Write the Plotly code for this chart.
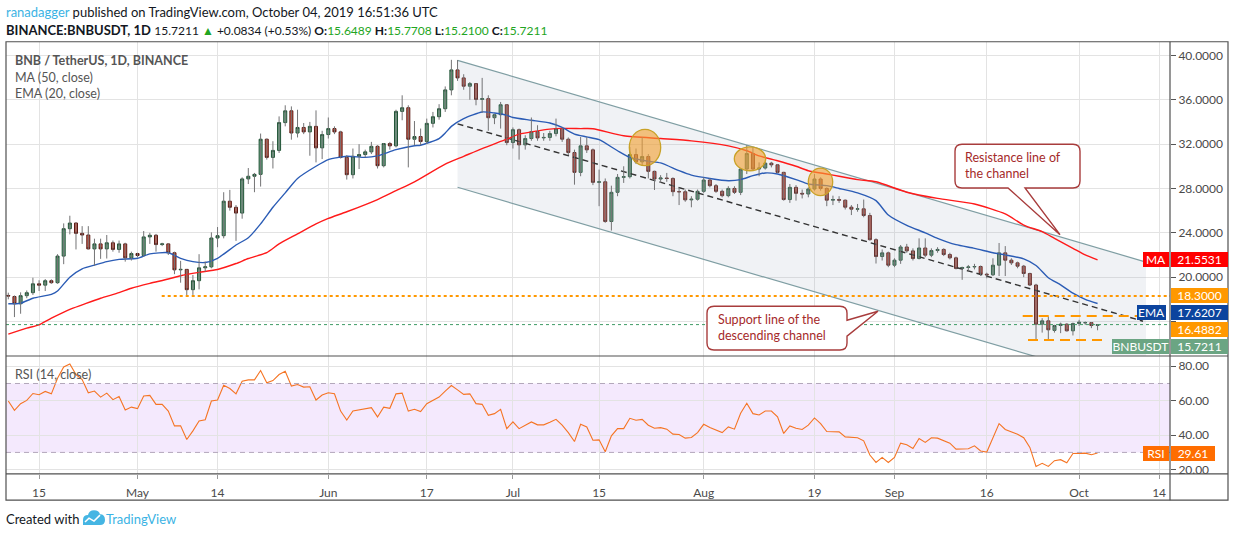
import plotly.graph_objects as go
import pandas as pd

W, H = 1234, 540
START = pd.Timestamp("2019-04-10")
FONT = "Lato, sans-serif"

# ---------------- data ----------------
opens = [18.35,18.25,17.6,18.33,18.6,19.4,19.28,19.68,19.5,21.9,
         24.37,24.88,23.95,23.8,22.55,23.0,22.55,23.1,22.5,23.0,
         21.74,22.13,21.95,23.63,23.78,22.94,23.0,22.2,20.66,20.7,
         18.87,19.68,20.84,20.93,23.53,23.74,26.85,26.3,25.78,28.86,
         29.1,29.27,32.44,30.8,31.43,33.94,35.0,33.0,33.5,33.1,
         33.6,31.66,32.86,33.4,33.1,30.8,29.24,30.9,31.06,31.3,
         31.8,30.05,32.05,31.84,34.95,35.28,32.44,32.68,32.23,33.87,
         34.47,35.19,36.89,38.69,37.97,37.22,37.46,36.03,36.1,34.38,
         34.65,35.55,32.14,33.3,31.93,32.5,33.13,32.56,32.6,32.95,
         33.4,32.44,31.24,29.45,31.84,31.48,28.55,28.6,25.02,27.65,
         29.0,29.06,31.06,30.4,30.88,29.54,28.85,28.94,28.9,27.71,
         27.7,26.97,27.03,27.74,28.76,28.25,27.74,27.35,28.0,27.65,
         29.75,31.15,29.75,29.84,30.28,30.13,29.45,27.0,28.1,27.56,
         27.5,27.95,28.85,28.0,26.94,27.0,26.94,26.31,26.13,26.16,
         25.56,23.38,21.86,22.19,21.08,21.53,22.72,22.37,21.68,22.63,
         21.98,22.4,22.5,22.04,21.74,20.78,20.87,20.92,20.96,20.27,
         20.21,21.08,22.19,21.53,21.29,20.99,20.33,19.29,15.76,16.06,
         15.2,15.64,15.76,15.16,15.82,15.88,15.9,15.6489]
highs = [18.6,18.35,18.63,18.8,19.95,19.72,19.83,19.8,22.07,24.85,
         25.54,24.95,24.6,24.6,23.47,23.47,23.8,23.3,23.3,23.1,
         22.3,22.2,24.16,24.0,23.9,23.1,23.05,22.3,21.47,20.7,
         20.2,22.07,21.4,24.04,24.52,27.66,27.87,26.5,29.0,29.84,
         29.4,32.95,32.5,32.26,34.5,35.5,35.4,35.1,33.9,34.0,
         35.04,33.2,34.4,33.6,33.2,31.0,31.6,31.99,31.5,32.2,
         31.9,32.1,32.2,35.1,36.4,35.5,34.08,33.4,34.3,34.9,
         35.6,37.2,39.6,39.58,38.3,37.6,37.5,37.97,36.4,34.7,
         35.8,35.6,33.5,33.4,32.8,34.4,33.7,33.0,33.2,34.3,
         33.5,32.6,31.5,32.64,32.64,31.6,29.7,28.9,28.25,29.3,
         30.0,31.75,31.6,32.64,31.1,29.6,29.2,29.4,29.0,28.1,
         27.9,27.3,27.9,29.0,28.9,28.4,27.9,28.2,28.2,29.8,
         31.9,31.7,30.35,30.4,30.4,30.2,29.5,28.4,28.3,27.9,
         28.1,29.3,29.0,28.1,27.35,27.3,27.0,26.5,26.6,27.0,
         25.8,23.5,22.5,22.3,21.7,22.9,23.0,22.6,23.5,23.5,
         22.6,22.7,22.6,22.2,21.85,20.95,21.1,21.2,21.05,20.4,
         21.7,23.08,22.8,21.7,21.4,21.1,20.4,19.4,16.3,16.45,
         15.7,15.9,15.85,15.9,16.15,16.0,15.95,15.7708]
lows = [18.0,16.4,16.7,18.1,18.4,18.75,18.75,19.4,19.4,21.17,
        23.86,22.5,23.0,22.5,21.02,21.65,21.68,22.3,22.2,21.4,
        21.5,21.8,21.85,23.0,22.3,22.8,22.0,20.27,19.5,18.3,
        18.4,18.9,20.5,20.8,22.7,23.5,26.0,23.27,25.27,28.4,
        27.66,28.17,30.6,29.8,31.2,33.6,32.4,32.6,32.9,30.95,
        30.35,30.65,32.5,32.9,30.7,28.8,28.9,29.75,30.8,31.1,
        29.8,29.9,31.5,31.7,34.15,29.9,31.9,31.9,32.0,33.5,
        34.2,34.9,36.4,37.7,36.9,36.0,35.5,34.83,33.2,33.8,
        33.4,31.9,31.6,30.6,31.5,32.3,32.3,32.3,32.3,32.7,
        32.2,31.0,28.34,29.1,31.2,28.3,26.4,24.9,24.2,27.3,
        28.5,28.9,30.2,30.1,28.9,27.86,28.5,28.6,27.3,26.5,
        26.8,26.3,26.9,27.6,28.1,27.6,27.2,27.2,27.5,27.4,
        29.3,29.6,29.1,29.7,29.9,29.4,26.9,26.7,26.9,27.1,
        27.2,27.8,27.8,26.4,26.5,26.7,26.1,25.6,25.9,25.4,
        23.3,21.23,21.5,20.9,20.9,21.2,22.2,21.5,21.6,21.8,
        21.8,22.2,21.9,21.6,20.7,19.76,20.5,20.7,20.1,19.9,
        20.1,20.1,20.1,21.1,20.8,20.0,19.2,14.3,15.0,14.35,
        15.0,14.95,15.1,14.74,15.6,15.7,15.4,15.21]
closes = [18.3,17.6,18.33,18.6,19.4,19.28,19.68,19.5,21.9,24.37,
          24.88,23.95,23.8,22.55,23.0,22.55,23.1,22.5,23.0,21.74,
          22.13,21.95,23.63,23.78,22.94,23.0,22.2,20.66,20.7,18.87,
          19.68,20.84,20.93,23.53,23.74,26.85,26.3,25.78,28.86,29.1,
          29.27,32.44,30.8,31.43,33.94,35.0,33.0,33.5,33.1,33.6,
          31.66,32.86,33.4,33.1,30.8,29.24,30.9,31.06,31.3,31.8,
          30.05,32.05,31.84,34.95,35.28,32.44,32.68,32.23,33.87,34.47,
          35.19,36.89,38.69,37.97,37.22,37.46,36.03,36.1,34.38,34.65,
          35.55,32.14,33.3,31.93,32.5,33.13,32.56,32.6,32.95,33.4,
          32.44,31.24,29.45,31.84,31.48,28.55,28.6,25.02,27.65,29.0,
          29.06,31.06,30.4,30.88,29.54,28.85,28.94,28.9,27.71,27.7,
          26.97,27.03,27.74,28.76,28.25,27.74,27.35,28.0,27.65,29.75,
          31.15,29.75,29.84,30.28,30.13,29.45,27.0,28.1,27.56,27.5,
          27.95,28.85,28.0,26.94,27.0,26.94,26.31,26.13,26.16,25.56,
          23.38,21.86,22.19,21.08,21.53,22.72,22.37,21.68,22.63,21.98,
          22.4,22.5,22.04,21.74,20.78,20.87,20.92,20.96,20.27,20.21,
          21.08,22.19,21.53,21.29,20.99,20.33,19.29,15.76,16.06,15.25,
          15.64,15.76,15.16,15.82,15.94,15.9,15.6377,15.7211]

ma_idx = [0,3,5,7,10,12,15,18,20,23,26,28,31,34,37,39,42,44,47,50,52,55,60,63,66,
          71,74,77,81,83,88,90,93,95,100,106,111,117,120,122,125,128,130,133,135,
          138,141,146,151,157,162,165,168,170,173,175,177]
ma_val = [14.86,15.4,15.7,16.3,17.1,17.5,18.1,18.6,19.0,19.44,19.83,20.13,20.43,20.69,
          21.23,21.68,22.22,23.0,23.9,24.8,25.3,25.9,27.0,27.8,28.6,30.2,30.9,31.6,
          32.44,32.9,33.35,33.42,33.4,33.39,32.75,32.5,32.29,31.84,31.4,30.94,30.5,
          30.0,29.6,29.3,29.1,28.8,28.6,27.66,27.1,26.6,25.7,24.7,24.1,23.5,22.6,22.0,21.5531]
ema_idx = [0,2,4,7,8,10,12,14,16,18,21,23,26,28,30,32,34,37,39,41,43,45,47,50,52,
           55,58,60,63,66,67,70,71,72,74,77,79,81,82,85,88,90,92,94,96,99,101,104,
           106,109,111,114,117,119,121,123,125,128,130,133,135,138,141,143,146,149,
           151,154,157,160,162,165,167,169,171,173,175,177]
ema_val = [17.6,17.65,18.1,18.45,18.75,20.0,20.75,21.08,21.4,21.6,21.7,22.1,22.2,21.7,
           21.4,21.32,21.7,22.9,23.55,24.8,26.3,27.6,28.9,30.0,30.6,30.9,30.8,30.94,
           31.5,31.85,31.9,32.5,33.0,33.6,34.3,34.9,34.8,34.6,34.4,34.15,33.9,33.5,
           32.9,32.65,32.4,31.4,30.8,30.45,30.3,29.6,29.2,28.9,28.7,28.8,29.15,29.4,
           29.3,28.8,28.4,28.25,28.0,27.6,26.9,25.6,24.67,24.0,23.5,22.93,22.6,22.2,
           22.0,21.65,21.05,19.95,19.3,18.55,18.0,17.6207]
rsi_val = [59.8,54.4,58.3,60.2,64.2,63.5,65.4,64.0,73.0,79.6,
           81.3,75.2,72.3,64.6,65.6,62.1,64.4,60.6,62.5,54.6,
           56.3,55.4,62.7,63.1,57.9,57.9,54.0,45.4,45.4,37.5,
           42.5,48.3,49.0,59.8,60.4,69.0,67.1,64.0,71.3,72.1,
           72.1,77.5,70.4,71.7,75.2,77.1,68.5,69.4,67.9,68.1,
           60.4,63.3,64.6,64.0,54.0,48.8,54.0,54.6,55.0,56.0,
           50.6,56.3,55.6,64.0,64.4,54.0,55.0,53.7,58.3,60.2,
           62.1,65.6,68.8,66.3,63.7,64.0,58.3,57.9,51.5,52.5,
           55.0,43.8,47.7,43.8,46.0,47.7,46.0,46.0,47.5,49.2,
           45.8,41.5,36.3,46.3,44.8,37.1,37.3,30.4,39.6,43.8,
           43.8,49.8,48.7,49.2,45.8,44.0,44.4,43.5,40.6,40.4,
           38.3,38.7,41.5,46.3,44.4,43.1,41.5,44.8,43.5,52.7,
           58.5,52.5,51.7,54.0,54.0,50.6,41.0,45.4,44.0,43.3,
           45.8,50.0,46.7,42.1,42.1,41.9,39.0,38.7,38.5,36.7,
           28.5,24.2,27.1,24.2,27.1,35.4,34.4,32.3,38.1,35.8,
           38.5,38.3,36.7,35.4,31.9,32.1,32.1,33.8,30.8,30.2,
           38.7,46.7,43.3,42.1,40.6,38.5,32.9,21.9,23.7,21.9,
           25.2,25.8,24.0,29.4,29.4,29.6,28.7,29.61]

tick_dates = ["2019-04-15","2019-05-01","2019-05-14","2019-06-01","2019-06-17","2019-07-01",
              "2019-07-15","2019-08-01","2019-08-19","2019-09-01","2019-09-16","2019-10-01","2019-10-14"]
tick_text = ["15","May","14","Jun","17","Jul","15","Aug","19","Sep","16","Oct","14"]
price_ticks = [16, 20, 24, 28, 32, 36, 40]
rsi_ticks = [20, 40, 60, 80]

dates = pd.date_range(START, periods=len(closes), freq="D")

# ---------------- pixel geometry helpers ----------------
X0_PX, PX_PER_DAY = 8.3, 6.154
PANE_L, PANE_R = 6, 1170
MAIN_T, MAIN_B = 42, 358
RSI_T, RSI_B = 358, 476.5
FRAME_R, FRAME_B = 1228, 503

def px2date(x):
    return START + pd.Timedelta(days=(x - X0_PX) / PX_PER_DAY)

def py2price(y):
    return 20 + (278.7 - y) / 11.15

def py2rsi(y):
    return 80 - (y - 368.3) / 1.733

def fx(x):
    return x / W

def fy(y):
    return 1 - y / H

GRID = "#e3e3e3"
UP_FILL, UP_LINE = "#6ba583", "#225437"
DN_FILL, DN_LINE = "#d75442", "#5b1a13"

fig = go.Figure()

# channel (drawing)
CH_T0 = pd.Timestamp("2019-06-22")
CH_T1 = px2date(1146)
CH_UP0, CH_UP1 = 39.55, 21.36
CH_W = 11.44
fig.add_trace(go.Scatter(x=[CH_T0, CH_T1, CH_T1, CH_T0],
                         y=[CH_UP0, CH_UP1, CH_UP1 - CH_W, CH_UP0 - CH_W],
                         fill="toself", fillcolor="rgba(160,175,195,0.16)",
                         line=dict(width=0), mode="lines", hoverinfo="skip"))
for off in (0, CH_W):
    fig.add_trace(go.Scatter(x=[CH_T0, CH_T1], y=[CH_UP0 - off, CH_UP1 - off], mode="lines",
                             line=dict(color="#7f9ea3", width=1.2), hoverinfo="skip"))
fig.add_trace(go.Scatter(x=[CH_T0, px2date(1143)],
                         y=[CH_UP0 - CH_W / 2, py2price(323)], mode="lines",
                         line=dict(color="#333333", width=1.4, dash="6px,4px"), hoverinfo="skip"))

# moving averages
fig.add_trace(go.Scatter(x=dates[ma_idx], y=ma_val, mode="lines",
                         line=dict(color="#ff1a1a", width=1.4, shape="spline", smoothing=0.6),
                         hoverinfo="skip"))
fig.add_trace(go.Scatter(x=dates[ema_idx], y=ema_val, mode="lines",
                         line=dict(color="#2b5cb5", width=1.4, shape="spline", smoothing=0.6),
                         hoverinfo="skip"))

# wicks
wx, wy = [], []
for d, lo, hi in zip(dates, lows, highs):
    wx += [d, d, None]
    wy += [lo, hi, None]
fig.add_trace(go.Scatter(x=wx, y=wy, mode="lines", line=dict(color="#737375", width=1),
                         hoverinfo="skip"))

# candle bodies
body_hi = [max(o, c) for o, c in zip(opens, closes)]
body_lo = [min(o, c) for o, c in zip(opens, closes)]
fig.add_trace(go.Candlestick(x=dates, open=opens, high=body_hi, low=body_lo, close=closes,
                             increasing=dict(fillcolor=UP_FILL, line=dict(color=UP_LINE, width=1)),
                             decreasing=dict(fillcolor=DN_FILL, line=dict(color=DN_LINE, width=1)),
                             whiskerwidth=0, hoverinfo="skip"))

# RSI
fig.add_trace(go.Scatter(x=dates, y=rsi_val, mode="lines", xaxis="x2", yaxis="y2",
                         line=dict(color="#f57423", width=1.1), hoverinfo="skip"))

x_range = [px2date(PANE_L), px2date(PANE_R)]
axis_font = dict(family=FONT, size=12, color="#4a4a4a")

fig.update_layout(
    width=W, height=H, autosize=False,
    margin=dict(l=0, r=0, t=0, b=0),
    paper_bgcolor="white", plot_bgcolor="white",
    showlegend=False, hovermode=False,
    xaxis=dict(domain=[fx(PANE_L), fx(PANE_R)], range=x_range, anchor="y",
               tickvals=tick_dates, showticklabels=False, ticks="",
               showgrid=True, gridcolor=GRID, gridwidth=1, zeroline=False,
               rangeslider=dict(visible=False), showline=False),
    yaxis=dict(domain=[fy(MAIN_B), fy(MAIN_T)], range=[py2price(MAIN_B), py2price(MAIN_T)],
               side="right", anchor="x", tickvals=price_ticks,
               ticktext=["" if v == 16 else f"{v:.4f}" for v in price_ticks],
               ticks="outside", ticklen=5, tickcolor="#555", tickfont=axis_font,
               showgrid=True, gridcolor=GRID, zeroline=False, showline=False),
    xaxis2=dict(domain=[fx(PANE_L), fx(PANE_R)], range=x_range, anchor="y2", matches="x",
                tickvals=tick_dates, ticktext=tick_text, ticks="outside", ticklen=4,
                tickcolor="#9a9a9a", tickfont=axis_font, ticklabelstandoff=4,
                showgrid=True, gridcolor=GRID, zeroline=False,
                rangeslider=dict(visible=False), showline=False),
    yaxis2=dict(domain=[fy(RSI_B), fy(RSI_T)], range=[py2rsi(RSI_B), py2rsi(RSI_T)],
                side="right", anchor="x2", tickvals=rsi_ticks,
                ticktext=[f"{v:.2f}" for v in rsi_ticks],
                ticks="outside", ticklen=5, tickcolor="#555", tickfont=axis_font,
                showgrid=True, gridcolor=GRID, zeroline=False, showline=False),
)

shapes = []
# RSI band
shapes.append(dict(type="rect", xref="paper", yref="y2", x0=fx(PANE_L), x1=fx(PANE_R), y0=30, y1=70,
                   fillcolor="rgba(150,40,240,0.10)", line=dict(width=0), layer="below"))
for lvl in (30, 70):
    shapes.append(dict(type="line", xref="paper", yref="y2", x0=fx(PANE_L), x1=fx(PANE_R), y0=lvl, y1=lvl,
                       line=dict(color="#b3a7bb", width=1, dash="5px,4px"), layer="above"))
# horizontal level lines
shapes.append(dict(type="line", xref="paper", yref="y", x0=fx(161.7), x1=fx(1170), y0=18.3, y1=18.3,
                   line=dict(color="#ff9800", width=2, dash="dot"), layer="above"))
shapes.append(dict(type="line", xref="paper", yref="y", x0=fx(PANE_L), x1=fx(PANE_R), y0=15.7211, y1=15.7211,
                   line=dict(color="#3f9b66", width=1, dash="dot"), layer="above"))
shapes.append(dict(type="line", xref="paper", yref="y", x0=fx(1022.7), x1=fx(1166), y0=16.4882, y1=16.4882,
                   line=dict(color="#ff9800", width=2, dash="10px,6px"), layer="above"))
shapes.append(dict(type="line", xref="paper", yref="y", x0=fx(1028), x1=fx(1107), y0=14.33, y1=14.33,
                   line=dict(color="#ff9800", width=2, dash="10px,6px"), layer="above"))
# circles
for (cx0, cx1, cy0, cy1) in [(629.3, 660.7, 130, 166.6), (734.3, 765.7, 147.7, 171.7), (808.3, 832.7, 169, 196.7)]:
    shapes.append(dict(type="circle", xref="x", yref="y", x0=px2date(cx0), x1=px2date(cx1),
                       y0=py2price(cy1), y1=py2price(cy0),
                       fillcolor="rgba(242,160,50,0.62)", line=dict(color="#c9a227", width=1.3),
                       layer="above"))

def P(x, y):
    return f"{fx(x):.5f},{fy(y):.5f}"

# resistance callout (tail at bottom)
x0, y0, x1, y1, r = 955, 145, 1080, 189, 7
path1 = (f"M {P(x0+r,y0)} L {P(x1-r,y0)} Q {P(x1,y0)} {P(x1,y0+r)} L {P(x1,y1-r)} "
         f"Q {P(x1,y1)} {P(x1-r,y1)} L {P(1025,y1)} L {P(1060,236)} L {P(1008,y1)} "
         f"L {P(x0+r,y1)} Q {P(x0,y1)} {P(x0,y1-r)} L {P(x0,y0+r)} Q {P(x0,y0)} {P(x0+r,y0)} Z")
shapes.append(dict(type="path", xref="paper", yref="paper", path=path1, fillcolor="white",
                   line=dict(color="#a83c3c", width=1.4), layer="above"))
# support callout (tail at right)
x0, y0, x1, y1 = 707, 308, 847, 352
path2 = (f"M {P(x0+r,y0)} L {P(x1-r,y0)} Q {P(x1,y0)} {P(x1,y0+r)} L {P(x1,322)} L {P(878,313)} "
         f"L {P(x1,338)} L {P(x1,y1-r)} Q {P(x1,y1)} {P(x1-r,y1)} L {P(x0+r,y1)} "
         f"Q {P(x0,y1)} {P(x0,y1-r)} L {P(x0,y0+r)} Q {P(x0,y0)} {P(x0+r,y0)} Z")
shapes.append(dict(type="path", xref="paper", yref="paper", path=path2, fillcolor="white",
                   line=dict(color="#a83c3c", width=1.4), layer="above"))

# frame
FR = "#505050"
shapes.append(dict(type="rect", xref="paper", yref="paper", x0=fx(PANE_L), x1=fx(FRAME_R),
                   y0=fy(FRAME_B), y1=fy(MAIN_T), line=dict(color=FR, width=1.2), layer="above"))
for yy in (MAIN_B, RSI_B):
    shapes.append(dict(type="line", xref="paper", yref="paper", x0=fx(PANE_L), x1=fx(FRAME_R),
                       y0=fy(yy), y1=fy(yy), line=dict(color=FR, width=1.2), layer="above"))
shapes.append(dict(type="line", xref="paper", yref="paper", x0=fx(PANE_R), x1=fx(PANE_R),
                   y0=fy(FRAME_B), y1=fy(MAIN_T), line=dict(color=FR, width=1.2), layer="above"))

# TradingView logo
logo = (f"M {P(83,528)} L {P(83,523)} Q {P(83,518)} {P(88,518)} Q {P(89,513)} {P(94,513)} "
        f"Q {P(99,513)} {P(100,517)} Q {P(105,517)} {P(105,523)} Q {P(105,528)} {P(100,528)} Z")
shapes.append(dict(type="path", xref="paper", yref="paper", path=logo, fillcolor="#45b5e3",
                   line=dict(width=0), layer="above"))
shapes.append(dict(type="path", xref="paper", yref="paper",
                   path=f"M {P(85,525)} L {P(89,521)} L {P(94,524)} L {P(100,518)}",
                   line=dict(color="white", width=1.5), layer="above"))

fig.update_layout(shapes=shapes)

ann = []

def text(x, y, s, size=13, color="#131722", anchor="left"):
    ann.append(dict(xref="paper", yref="paper", x=fx(x), y=fy(y), text=s, showarrow=False,
                    xanchor=anchor, yanchor="middle", align="left",
                    font=dict(family=FONT, size=size, color=color)))

GREEN = "#22a522"
SMALL = "font-size:12px"
text(4, 12.5, "<span style='color:#3bb3e4'>ranadagger</span> published on TradingView.com, "
     "October 04, 2019 16:51:36 UTC")
text(4, 30, f"<b>BINANCE:BNBUSDT, 1D</b> <span style='{SMALL}'>15.7211 <span style='color:{GREEN}'>▲</span> "
     f"+0.0834 (+0.53%) <b>O:</b><span style='color:{GREEN}'>15.6489</span> "
     f"<b>H:</b><span style='color:{GREEN}'>15.7708</span> "
     f"<b>L:</b><span style='color:{GREEN}'>15.2100</span> "
     f"<b>C:</b><span style='color:{GREEN}'>15.7211</span></span>")
text(13, 61, "<b>BNB / TetherUS, 1D, BINANCE</b>", size=12.5, color="#555555")
text(13, 78, "MA (50, close)", size=12.5, color="#555555")
text(13, 94.5, "EMA (20, close)", size=12.5, color="#555555")
text(13, 376.5, "RSI (14, close)", size=12.5, color="#555555")
text(963, 166.5, "Resistance line of<br>the channel", size=12.5, color="#a52a2a")
text(716, 329.5, "Support line of the<br>descending channel", size=12.5, color="#a52a2a")
text(4, 522, "Created with")
text(104, 522, "TradingView", color="#3bb3e4")

def label(s, x0, x1, yc, bg):
    ann.append(dict(xref="paper", yref="paper", x=fx((x0 + x1) / 2), y=fy(yc), text=s, showarrow=False,
                    xanchor="center", yanchor="middle", width=x1 - x0, height=15, borderpad=0,
                    borderwidth=0, bgcolor=bg, font=dict(family=FONT, size=12, color="white")))

label("MA", 1143, 1169, 261.3, "#ff0000")
label("21.5531", 1171, 1228, 261.3, "#ff0000")
label("18.3000", 1171, 1228, 297.2, "#ff9800")
label("EMA", 1137, 1166, 314, "#0c449e")
label("17.6207", 1171, 1228, 314, "#0c449e")
label("16.4882", 1171, 1228, 331.2, "#ff9800")
label("BNBUSDT", 1112, 1169, 348, "#6ba583")
label("15.7211", 1171, 1228, 348, "#6ba583")
label("RSI", 1143, 1169, 456.3, "#ff6d00")
label("29.61", 1171, 1215, 456.3, "#ff6d00")

fig.update_layout(annotations=ann)

fig.write_html("out.html", config={"displayModeBar": False, "staticPlot": True},
               post_script="document.body.style.margin='0';document.body.style.overflow='hidden';")
